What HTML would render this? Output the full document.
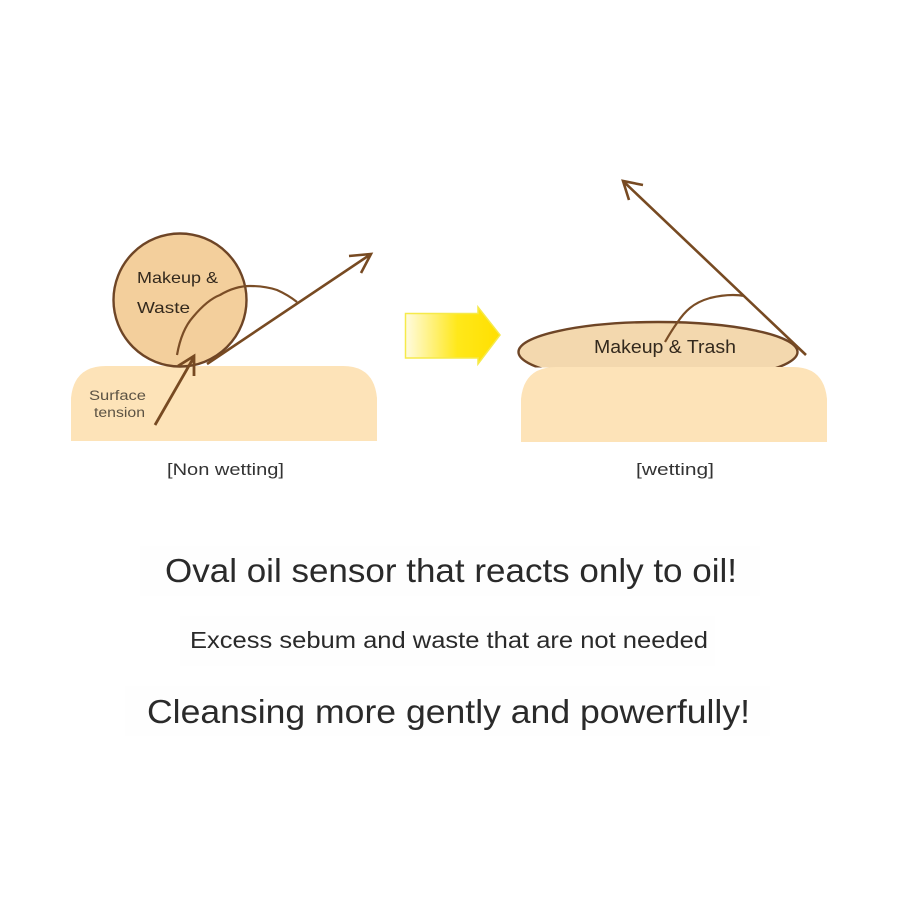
<!DOCTYPE html>
<html lang="en">
<head>
<meta charset="utf-8">
<title>Oval oil sensor</title>
<style>
html,body{margin:0;padding:0;background:#fff;width:900px;height:900px;overflow:hidden}
svg{display:block}
text{font-family:"Liberation Sans",sans-serif}
</style>
</head>
<body>
<svg width="900" height="900" viewBox="0 0 900 900" xmlns="http://www.w3.org/2000/svg">
<defs>
<linearGradient id="y" x1="0" x2="1" y1="0" y2="0">
<stop offset="0" stop-color="#fffbe0"/>
<stop offset=".55" stop-color="#ffe81a"/>
<stop offset="1" stop-color="#ffdf00"/>
</linearGradient>
<clipPath id="above"><rect x="500" y="300" width="320" height="67.500"/></clipPath>
</defs>
<rect width="900" height="900" fill="#fff"/>
<rect x="140" y="546" width="620" height="50" fill="#fefefe"/>
<rect x="180" y="616" width="535" height="50" fill="#fefefe"/>
<rect x="125" y="686" width="645" height="50" fill="#fefefe"/>

<!-- Left diagram -->
<path d="M71 441V398Q74 366 106 366H343Q374 366 377 398V441Z" fill="#fde3b8"/>
<circle cx="180" cy="300" r="66.500" fill="#f3cf9c" stroke="#6e4526" stroke-width="2.400"/>
<path d="M177 355C180 338 185 326 193 317C203 305 212 298 220 295C230 289 240 286 250 286C262 286 271 288 277 290C286 294 292 298 297 302" fill="none" stroke="#7a4d26" stroke-width="2.200"/>
<path d="M207 364L371 254M349 256L371 254L361 273" fill="none" stroke="#774a22" stroke-width="2.600"/>
<path d="M155 425L194 357M178 366L194 356L194 376" fill="none" stroke="#774a22" stroke-width="2.800"/>
<text x="137" y="283" font-size="16" fill="#33291d" textLength="81" lengthAdjust="spacingAndGlyphs">Makeup &amp;</text>
<text x="137" y="313" font-size="16" fill="#33291d" textLength="53" lengthAdjust="spacingAndGlyphs">Waste</text>
<text x="89" y="400" font-size="13.500" fill="#5c5344" textLength="57" lengthAdjust="spacingAndGlyphs">Surface</text>
<text x="94" y="417" font-size="13.500" fill="#5c5344" textLength="51" lengthAdjust="spacingAndGlyphs">tension</text>
<text x="167" y="475" font-size="17" fill="#333" textLength="117" lengthAdjust="spacingAndGlyphs">[Non wetting]</text>

<!-- Yellow arrow -->
<path d="M405.500 313.500H478V307L500 335L478 364V358H405.500Z" fill="url(#y)" stroke="#f6ea4a" stroke-width="1.500"/>

<!-- Right diagram -->
<ellipse cx="658" cy="352" rx="139.500" ry="30" fill="#f3d8ae" stroke="#6e4526" stroke-width="2.400" clip-path="url(#above)"/>
<path d="M521 442V399Q524 367 556 367H793Q824 367 827 399V442Z" fill="#fde3b8"/>
<path d="M665 342C669 335 672 330 677 323C681 317 685 312 690 308C696 303 703 300 710 298C718 296 726 295 733 295C737 295 740 295 743 296" fill="none" stroke="#7a4d26" stroke-width="2.200"/>
<path d="M806 355L623 181M643 185L623 181L629 200" fill="none" stroke="#774a22" stroke-width="2.600"/>
<text x="594" y="353" font-size="18" fill="#33291d" textLength="142" lengthAdjust="spacingAndGlyphs">Makeup &amp; Trash</text>
<text x="636" y="475" font-size="17" fill="#333" textLength="78" lengthAdjust="spacingAndGlyphs">[wetting]</text>

<!-- Captions -->
<text x="165" y="582" font-size="33" fill="#2a2a2a" textLength="572" lengthAdjust="spacingAndGlyphs">Oval oil sensor that reacts only to oil!</text>
<text x="190" y="648" font-size="23" fill="#2a2a2a" textLength="518" lengthAdjust="spacingAndGlyphs">Excess sebum and waste that are not needed</text>
<text x="147" y="723" font-size="33" fill="#2a2a2a" textLength="603" lengthAdjust="spacingAndGlyphs">Cleansing more gently and powerfully!</text>
</svg>
</body>
</html>
